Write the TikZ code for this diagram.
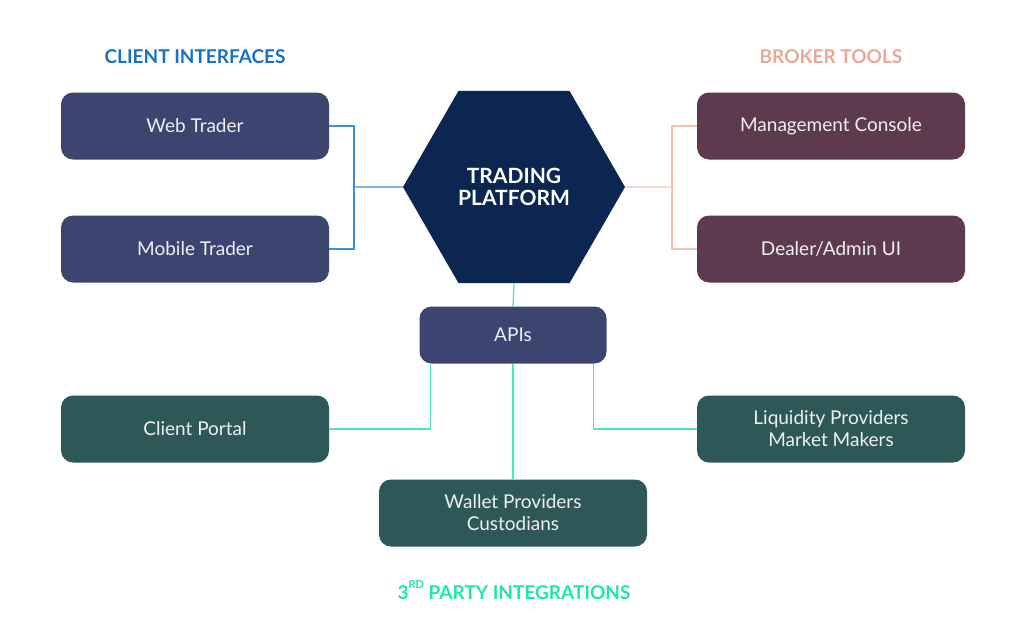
\documentclass[tikz,border=0pt]{standalone}
\usepackage{fontspec}
\setmainfont{Lato}
\usepackage{tikz}
\usetikzlibrary{positioning,shapes.geometric}
\definecolor{kundeblau}{HTML}{3C4470}
\definecolor{plattform}{HTML}{0B2651}
\definecolor{maklerrot}{HTML}{5E3A4E}
\definecolor{drittgruen}{HTML}{2E5858}
\definecolor{kundelinie}{HTML}{3E8FD6}
\definecolor{kundetitel}{HTML}{1673C4}
\definecolor{maklerlinie}{HTML}{F4C0AF}
\definecolor{maklertitel}{HTML}{E8A997}
\definecolor{drittlinie}{HTML}{4BEBB5}
\definecolor{dritttitel}{HTML}{1DE9A0}
\definecolor{schrift}{HTML}{EEF0F4}

\begin{document}
\begin{tikzpicture}[x=1pt,y=-1pt,
  kasten/.style={rounded corners=12pt,minimum width=268pt,minimum height=67pt,inner sep=0pt,
    text=schrift,align=center,font=\fontsize{19}{22}\selectfont},
  sechseck/.style={regular polygon,regular polygon sides=6,minimum size=222pt,inner sep=0pt,
    fill=plattform,text=white,align=center,font=\bfseries\fontsize{21}{22}\selectfont},
  titel/.style={font=\bfseries\fontsize{19}{22}\selectfont},
  linie/.style={line width=1.3pt}]
\useasboundingbox[fill=white] (0,0) rectangle (1024,643);
%Mitte: Plattform und APIs
\node[sechseck] (tp) at (514,187) {TRADING\\PLATFORM};
\node[kasten,fill=kundeblau,minimum width=187pt,minimum height=57pt] (api) at (513,335) {APIs};
%Kunden links, Broker rechts
\node[kasten,fill=kundeblau] (web) at (195,126) {Web Trader};
\node[kasten,fill=kundeblau] (mobile) at (195,249) {Mobile Trader};
\node[kasten,fill=maklerrot] (konsole) at (831,126) {Management Console};
\node[kasten,fill=maklerrot] (dealer) at (831,249) {Dealer/Admin UI};
%Drittanbieter unten
\node[kasten,fill=drittgruen] (portal) at (195,429) {Client Portal};
\node[kasten,fill=drittgruen] (liquid) at (831,429) {Liquidity Providers\\Market Makers};
\node[kasten,fill=drittgruen] (wallet) at (513,513) {Wallet Providers\\Custodians};
%Ueberschriften
\node[titel,text=kundetitel] (kt) at (195,57) {CLIENT INTERFACES};
\node[titel,text=maklertitel] (mt) at (831,57) {BROKER TOOLS};
\node[titel,text=dritttitel] (dt) at (514,590) {3\raisebox{.55em}{\fontsize{11}{11}\selectfont RD} PARTY INTEGRATIONS};
%Verbindungen
\coordinate (kb) at (354,187);
\coordinate (mb) at (672,187);
\draw[linie,kundelinie] (web.east) -| (kb) |- (mobile.east);
\draw[linie,kundelinie] (kb) -- (tp.west);
\draw[linie,maklerlinie] (konsole.west) -| (mb) |- (dealer.west);
\draw[linie,maklerlinie] (mb) -- (tp.east);
\draw[linie,drittlinie] (tp.south) -- (api.north);
\draw[linie,drittlinie] (api.south) -- (wallet.north);
\draw[linie,drittlinie] (portal.east) -| ([xshift=11pt]api.south west);
\draw[linie,drittlinie] ([xshift=-13pt]api.south east) |- (liquid.west);
\end{tikzpicture}
\end{document}
